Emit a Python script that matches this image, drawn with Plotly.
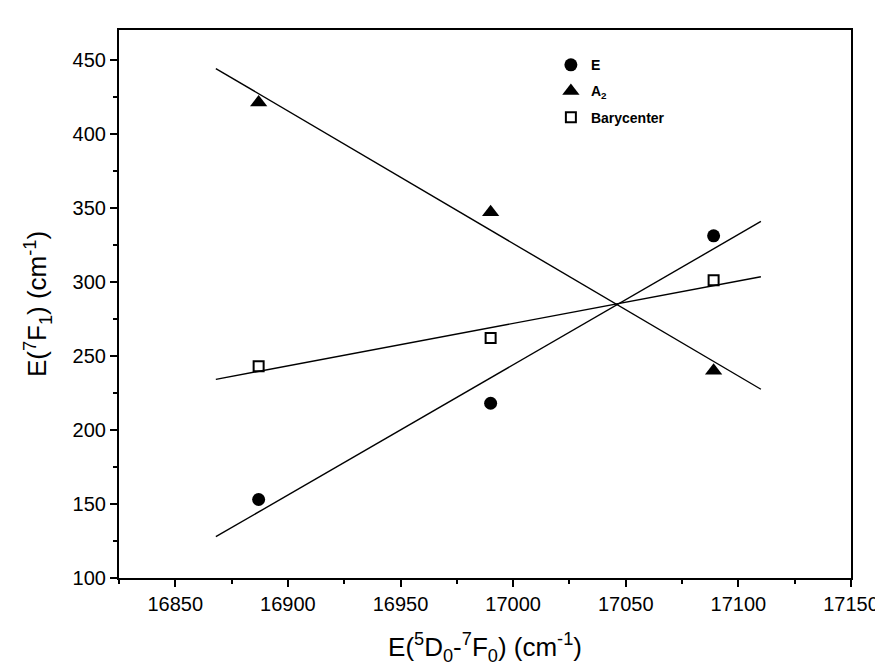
import numpy as np
import plotly.graph_objects as go

# Data
x_vals = [16887, 16990, 17089]
e_vals = [153, 218, 331]
a2_vals = [421, 347, 240]
bary_vals = [243, 262, 301]
fit_x_range = [16868, 17110]

x_ticks = [16850, 16900, 16950, 17000, 17050, 17100, 17150]
y_ticks = [100, 150, 200, 250, 300, 350, 400, 450]

FONT = "Liberation Sans, Arial, sans-serif"

fig = go.Figure()

series = [
    ("<b>E</b>", e_vals, dict(symbol="circle", size=13, color="black")),
    ("<b>A<sub>2</sub></b>", a2_vals, dict(symbol="triangle-up", size=15, color="black")),
    ("<b>Barycenter</b>", bary_vals, dict(symbol="square-open", size=10, color="black",
                                           line=dict(width=2, color="black"))),
]

fx = np.array(fit_x_range, dtype=float)
for name, vals, mk in series:
    slope, icpt = np.polyfit(np.array(x_vals, float), np.array(vals, float), 1)
    fig.add_trace(go.Scatter(x=fx, y=slope * fx + icpt, mode="lines",
                             line=dict(color="black", width=1.4),
                             showlegend=False, hoverinfo="skip"))
for i, (name, vals, mk) in enumerate(series):
    fig.add_trace(go.Scatter(x=x_vals, y=vals, mode="markers", name=name,
                             marker=mk, legendgroup=f"g{i}"))

axis_common = dict(
    showline=True, linecolor="black", linewidth=2.2, mirror=True,
    ticks="outside", ticklen=7, tickwidth=2, tickcolor="black",
    showgrid=False, zeroline=False,
    tickfont=dict(family=FONT, size=20, color="black"),
    minor=dict(ticks="outside", ticklen=4, tickwidth=1.5, tickcolor="black", showgrid=False),
)

fig.update_xaxes(range=[16825, 17150], tickvals=x_ticks, ticktext=[str(v) for v in x_ticks],
                 minor_dtick=25, minor_tick0=16825,
                 title=dict(text="E(<sup>5</sup>D<sub>0</sub>-<sup>7</sup>F<sub>0</sub>) (cm<sup>-1</sup>)",
                            font=dict(family=FONT, size=26, color="black"), standoff=24),
                 **axis_common)
fig.update_yaxes(range=[100, 470], tickvals=y_ticks, ticktext=[str(v) for v in y_ticks],
                 minor_dtick=25, minor_tick0=100,
                 title=dict(text="E(<sup>7</sup>F<sub>1</sub>) (cm<sup>-1</sup>)",
                            font=dict(family=FONT, size=26, color="black"), standoff=18),
                 **axis_common)

fig.update_layout(
    width=883, height=671,
    margin=dict(l=111, r=32, t=22, b=101),
    plot_bgcolor="white", paper_bgcolor="white",
    font=dict(family=FONT, color="black"),
    legend=dict(x=0.59, y=0.965, xanchor="left", yanchor="top",
                font=dict(family=FONT, size=14, color="black"),
                bgcolor="rgba(0,0,0,0)", tracegroupgap=5),
)

fig.write_html("out.html")
